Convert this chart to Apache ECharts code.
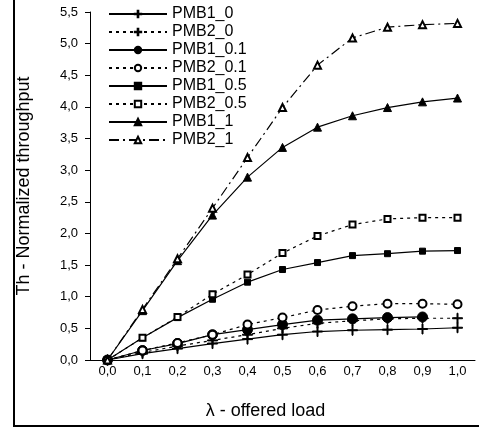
<!DOCTYPE html>
<html>
<head>
<meta charset="utf-8">
<script src="https://cdn.jsdelivr.net/npm/echarts@6/dist/echarts.min.js"></script>
<style>
  html, body { margin: 0; padding: 0; background: #fff; }
  #chart { width: 479px; height: 428px; }
</style>
</head>
<body>
<div id="chart"></div>
<script>
// offered load (x axis)
const loads = ['0,0', '0,1', '0,2', '0,3', '0,4', '0,5', '0,6', '0,7', '0,8', '0,9', '1,0']

// normalized throughput per series
const pmb1_0   = [0, 0.10, 0.18, 0.26, 0.33, 0.40, 0.45, 0.47, 0.48, 0.49, 0.51]
const pmb2_0   = [0, 0.12, 0.22, 0.31, 0.40, 0.50, 0.58, 0.62, 0.65, 0.66, 0.66]
const pmb1_01  = [0, 0.15, 0.26, 0.40, 0.48, 0.56, 0.63, 0.65, 0.67, 0.68, '-']
const pmb2_01  = [0, 0.15, 0.27, 0.40, 0.56, 0.67, 0.79, 0.85, 0.89, 0.89, 0.88]
const pmb1_05  = [0, 0.35, 0.67, 0.96, 1.23, 1.43, 1.54, 1.65, 1.68, 1.72, 1.73]
const pmb2_05  = [0, 0.35, 0.68, 1.04, 1.35, 1.69, 1.96, 2.14, 2.23, 2.25, 2.25]
const pmb1_1   = [0, 0.78, 1.57, 2.29, 2.89, 3.36, 3.68, 3.86, 3.99, 4.08, 4.14]
const pmb2_1   = [0, 0.80, 1.60, 2.40, 3.20, 3.99, 4.66, 5.09, 5.26, 5.30, 5.32]

const plus = 'path://M4.5,0H5.5V4.5H10V5.5H5.5V10H4.5V5.5H0V4.5H4.5Z'
const dotted = [3, 4]
const dashDot = [10, 4, 2, 4]

function line (name, data, symbol, size, type) {
  return {
    name: name,
    type: 'line',
    data: data,
    symbol: symbol,
    symbolSize: size,
    showAllSymbol: true,
    lineStyle: { color: '#000', width: 1.2, type: type },
    itemStyle: { color: '#000', borderColor: '#000', borderWidth: 1 },
    emphasis: { disabled: true },
    animation: false
  }
}

const chart = echarts.init(document.getElementById('chart'))
chart.setOption({
  textStyle: { fontFamily: 'Liberation Sans, Arial, sans-serif', color: '#000' },
  grid: { left: 90, right: 4, top: 12, bottom: 68, outerBoundsMode: 'none' },
  legend: {
    orient: 'vertical',
    left: 103,
    top: 1,
    itemWidth: 58,
    itemHeight: 8,
    itemGap: 2,
    textStyle: { fontSize: 16, color: '#000' },
    data: ['PMB1_0', 'PMB2_0', 'PMB1_0.1', 'PMB2_0.1', 'PMB1_0.5', 'PMB2_0.5', 'PMB1_1', 'PMB2_1']
  },
  xAxis: {
    type: 'category',
    data: loads,
    boundaryGap: true,
    name: 'λ - offered load',
    nameLocation: 'middle',
    nameGap: 42,
    nameTextStyle: { fontSize: 18, color: '#000', padding: [0, 34, 0, 0] },
    axisLine: { lineStyle: { color: '#000', width: 1 } },
    axisTick: { length: 5, lineStyle: { color: '#000' } },
    axisLabel: { fontSize: 13, color: '#000', margin: 5 }
  },
  yAxis: {
    type: 'value',
    min: 0,
    max: 5.5,
    interval: 0.5,
    name: 'Th - Normalized throughput',
    nameLocation: 'middle',
    nameGap: 57,
    nameTextStyle: { fontSize: 18, color: '#000' },
    splitLine: { show: false },
    axisLine: { show: true, lineStyle: { color: '#000', width: 1 } },
    axisTick: { show: true, length: 5, lineStyle: { color: '#000' } },
    axisLabel: {
      fontSize: 13,
      color: '#000',
      margin: 12,
      formatter: v => v.toFixed(1).replace('.', ',')
    }
  },
  graphic: [{
    type: 'rect',
    shape: { x: 14, y: -10, width: 600, height: 436 },
    style: { fill: 'none', stroke: '#000', lineWidth: 2 },
    silent: true
  }],
  series: [
    line('PMB1_0', pmb1_0, plus, 10, 'solid'),
    line('PMB2_0', pmb2_0, plus, 10, dotted),
    line('PMB1_0.1', pmb1_01, 'circle', 10, 'solid'),
    line('PMB2_0.1', pmb2_01, 'emptyCircle', 8, dotted),
    line('PMB1_0.5', pmb1_05, 'rect', 6, 'solid'),
    line('PMB2_0.5', pmb2_05, 'emptyRect', 6, dotted),
    line('PMB1_1', pmb1_1, 'triangle', 8, 'solid'),
    line('PMB2_1', pmb2_1, 'emptyTriangle', 7, dashDot)
  ]
})
</script>
</body>
</html>
